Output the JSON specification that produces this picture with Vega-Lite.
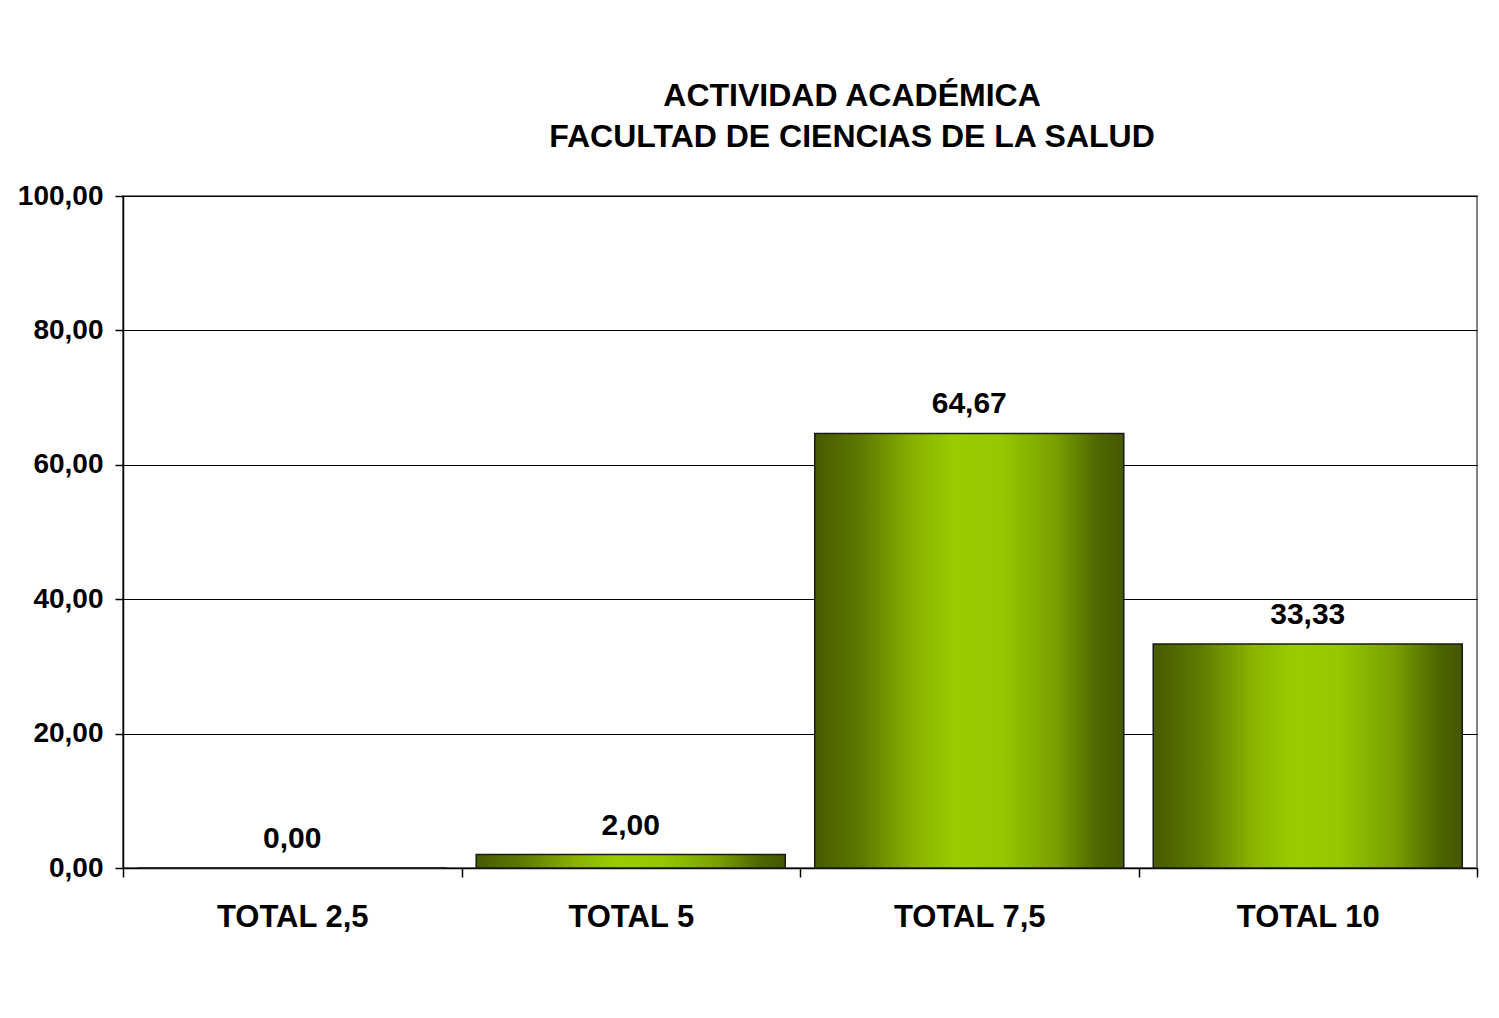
{
  "$schema": "https://vega.github.io/schema/vega-lite/v6.json",
  "width": 1354,
  "height": 672,
  "autosize": "none",
  "padding": {"left": 123, "top": 196, "right": 22, "bottom": 150},
  "background": "white",
  "config": {
    "locale": {"number": {"decimal": ",", "thousands": ".", "grouping": [3], "currency": ["", ""]}},
    "view": {"stroke": "#808080", "strokeWidth": 2},
    "font": "Liberation Sans"
  },
  "title": {
    "text": ["ACTIVIDAD ACADÉMICA", "FACULTAD DE CIENCIAS DE LA SALUD"],
    "font": "Liberation Sans",
    "fontSize": 32,
    "fontWeight": "bold",
    "color": "black",
    "anchor": "middle",
    "dx": 52,
    "offset": 28,
    "lineHeight": 41
  },
  "data": {
    "values": [
      {"cat": "TOTAL 2,5", "v": 0},
      {"cat": "TOTAL 5", "v": 2},
      {"cat": "TOTAL 7,5", "v": 64.67},
      {"cat": "TOTAL 10", "v": 33.33}
    ]
  },
  "encoding": {
    "x": {
      "field": "cat", "type": "nominal", "sort": null,
      "scale": {"paddingInner": 0, "paddingOuter": 0},
      "axis": {
        "title": null, "labelAngle": 0, "labelFont": "Liberation Sans", "labelFontSize": 31,
        "labelFontWeight": "bold", "labelColor": "black", "tickBand": "extent",
        "tickSize": 9, "tickColor": "black", "tickWidth": 1.5, "domainColor": "black", "domainWidth": 1.5,
        "labelPadding": 25, "grid": false
      }
    },
    "y": {
      "field": "v", "type": "quantitative",
      "scale": {"domain": [0, 100], "nice": false},
      "axis": {
        "title": null, "values": [0, 20, 40, 60, 80, 100], "format": ".2f",
        "labelFont": "Liberation Sans", "labelFontSize": 28, "labelFontWeight": "bold", "labelColor": "black",
        "tickSize": 8, "tickColor": "black", "tickWidth": 1.5, "labelPadding": 12,
        "grid": true, "gridColor": "black", "gridWidth": 1,
        "domainColor": "black", "domainWidth": 1.5
      }
    }
  },
  "layer": [
    {
      "mark": {
        "type": "bar",
        "width": {"band": 0.913},
        "stroke": "#1a1a1a",
        "strokeWidth": 1.5,
        "color": {
          "gradient": "linear", "x1": 0, "x2": 1, "y1": 0, "y2": 0,
          "stops": [
            {"offset": 0, "color": "#465a00"},
            {"offset": 0.15, "color": "#5e7a00"},
            {"offset": 0.32, "color": "#88b300"},
            {"offset": 0.45, "color": "#99cc00"},
            {"offset": 0.6, "color": "#96c800"},
            {"offset": 0.78, "color": "#78a000"},
            {"offset": 0.92, "color": "#4e6600"},
            {"offset": 1, "color": "#445800"}
          ]
        }
      }
    },
    {
      "mark": {
        "type": "text", "baseline": "alphabetic", "dy": -20,
        "font": "Liberation Sans", "fontSize": 30, "fontWeight": "bold", "color": "black"
      },
      "encoding": {
        "text": {"field": "v", "type": "quantitative", "format": ".2f"}
      }
    }
  ]
}
